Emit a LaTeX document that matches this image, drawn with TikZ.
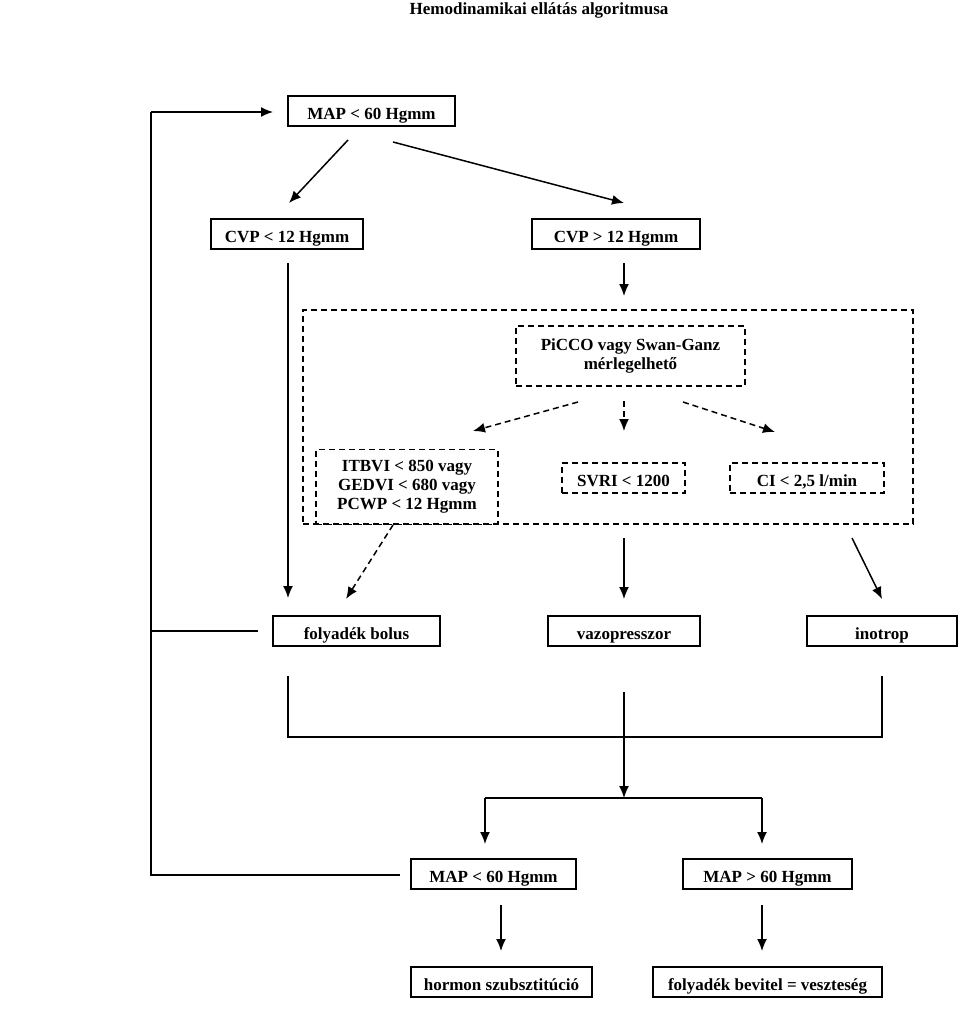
\documentclass[tikz,border=0pt]{standalone}
\usepackage{fontspec}
\setmainfont{Liberation Serif}
\usetikzlibrary{arrows.meta}
\begin{document}
\begin{tikzpicture}[x=1pt,y=-1pt,
  lbl/.style={font=\bfseries\fontsize{17}{19}\selectfont},
  mbox/.style={lbl,draw,line width=1.5pt,minimum height=30pt,inner sep=0pt,align=center},
  box/.style={mbox,text height=17pt,text depth=0pt},
  dbox/.style={box,dash pattern=on 6pt off 4pt},
  dmbox/.style={mbox,dash pattern=on 6pt off 4pt},
  arr/.style={line width=1.5pt,-{Latex[length=12pt,width=10pt]}},
  darr/.style={arr,dash pattern=on 6pt off 4pt},
  ln/.style={line width=1.5pt}]
\useasboundingbox (0,0) rectangle (960,1009);
\node[lbl,anchor=base] (title) at (539,14) {Hemodinamikai ellátás algoritmusa};
% boxes
\node[box,minimum width=167pt] (map1) at (371.5,111) {MAP < 60 Hgmm};
\node[box,minimum width=152pt] (cvp1) at (287,234) {CVP < 12 Hgmm};
\node[box,minimum width=168pt] (cvp2) at (616,234) {CVP > 12 Hgmm};
\node[draw,line width=1.5pt,dash pattern=on 6pt off 4pt,minimum width=610pt,minimum height=214pt,inner sep=0pt] (frame) at (608,417) {};
\node[dmbox,minimum width=229pt,minimum height=60pt] (picco) at (630.5,356) {PiCCO vagy Swan-Ganz\\mérlegelhető};
\node[dmbox,minimum width=182pt,minimum height=75pt] (itbvi) at (407,487) {ITBVI < 850 vagy\\GEDVI < 680 vagy\\PCWP < 12 Hgmm};
\node[dbox,minimum width=123pt] (svri) at (623.5,478) {SVRI < 1200};
\node[dbox,minimum width=154pt] (ci) at (807,478) {CI < 2,5 l/min};
\node[box,minimum width=167pt] (bolus) at (356.5,631) {folyadék bolus};
\node[box,minimum width=152pt] (vazo) at (624,631) {vazopresszor};
\node[box,minimum width=150pt] (ino) at (882,631) {inotrop};
\node[box,minimum width=165pt] (map2) at (493.5,874) {MAP < 60 Hgmm};
\node[box,minimum width=169pt] (map3) at (767.5,874) {MAP > 60 Hgmm};
\node[box,minimum width=181pt] (horm) at (501.5,982) {hormon szubsztitúció};
\node[box,minimum width=229pt] (foly) at (767.5,982) {folyadék bevitel = veszteség};
% coordinates
\coordinate (a1s) at (348,140); \coordinate (a1e) at (289,203);
\coordinate (a2s) at (393,142); \coordinate (a2e) at (624,203);
\coordinate (a3s) at (288,263); \coordinate (a3e) at (288,598);
\coordinate (a4s) at (624,263); \coordinate (a4e) at (624,296);
\coordinate (d1s) at (578,402); \coordinate (d1e) at (473,431);
\coordinate (d2s) at (624,401); \coordinate (d2e) at (624,431);
\coordinate (d3s) at (683,402); \coordinate (d3e) at (775,432);
\coordinate (d4s) at (393,525); \coordinate (d4e) at (346,599);
\coordinate (a5s) at (624,538); \coordinate (a5e) at (624,599);
\coordinate (a6s) at (852,538); \coordinate (a6e) at (882,599);
\coordinate (l1) at (288,676); \coordinate (l2) at (882,676);
\coordinate (mc) at (624,692); \coordinate (md) at (624,798);
\coordinate (bl) at (485,798); \coordinate (br) at (762,798);
\coordinate (ble) at (485,844); \coordinate (bre) at (762,844);
\coordinate (h1s) at (501,905); \coordinate (h1e) at (501,951);
\coordinate (h2s) at (762,905); \coordinate (h2e) at (762,951);
\coordinate (lpb) at (151,875); \coordinate (lpbe) at (400,875);
\coordinate (lpt) at (151,112); \coordinate (lpte) at (273,112);
\coordinate (lpm) at (151,631); \coordinate (lpme) at (258,631);
% connectors
\draw[arr] (a1s) -- (a1e);
\draw[arr] (a2s) -- (a2e);
\draw[arr] (a3s) -- (a3e);
\draw[arr] (a4s) -- (a4e);
\draw[darr] (d1s) -- (d1e);
\draw[darr] (d2s) -- (d2e);
\draw[darr] (d3s) -- (d3e);
\draw[darr] (d4s) -- (d4e);
\draw[arr] (a5s) -- (a5e);
\draw[arr] (a6s) -- (a6e);
\draw[ln] (l1) |- (l2 |- 0,737) -- (l2);
\draw[arr] (mc) -- (md);
\draw[ln] (bl) -- (br);
\draw[arr] (bl) -- (ble);
\draw[arr] (br) -- (bre);
\draw[arr] (h1s) -- (h1e);
\draw[arr] (h2s) -- (h2e);
\draw[ln] (lpbe) -- (lpb) -- (lpt);
\draw[arr] (lpt) -- (lpte);
\draw[ln] (lpm) -- (lpme);
\end{tikzpicture}
\end{document}
